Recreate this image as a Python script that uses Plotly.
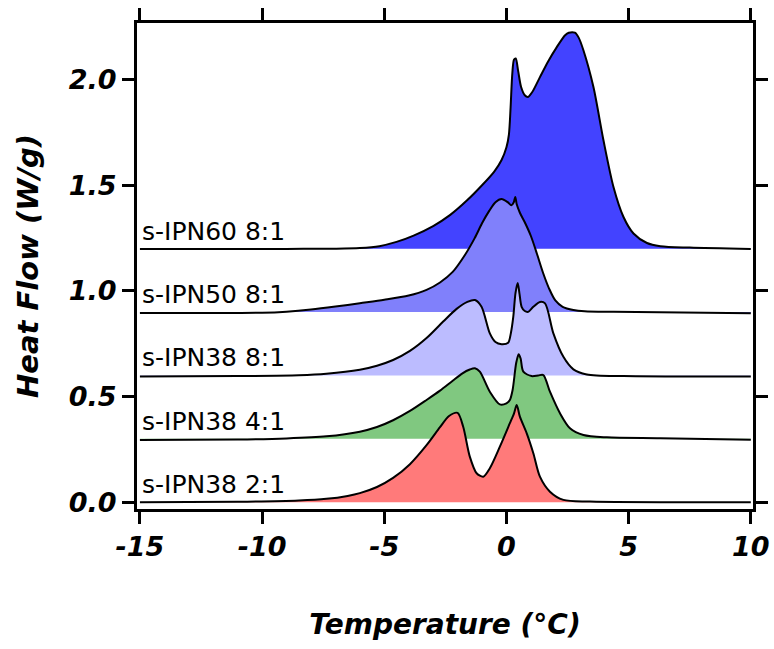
import plotly.graph_objects as go

# DSC heating traces, stacked with a vertical offset per sample
samples = ["s-IPN60 8:1", "s-IPN50 8:1", "s-IPN38 8:1", "s-IPN38 4:1", "s-IPN38 2:1"]
baselines = [1.2, 0.9, 0.6, 0.3, 0.0]
fill_colors = ["#4343ff", "#8080fb", "#bcbcff", "#80c880", "#ff7a7a"]

# s-IPN60 8:1
t_60 = [-15, -9, -7, -6, -5.2, -4.5, -3.8, -3.0, -2.3, -1.6, -1.0, -0.5, -0.2, 0.0,
        0.1, 0.17, 0.24, 0.31, 0.38, 0.48, 0.6, 0.75, 0.88, 1.05, 1.37, 1.7, 2.06,
        2.4, 2.55, 2.8, 2.95, 3.15, 3.56, 3.97, 4.38, 4.79, 5.2, 5.75, 6.3, 7.5, 10]
hf_60 = [1.198, 1.199, 1.2, 1.203, 1.212, 1.232, 1.262, 1.307, 1.36, 1.43, 1.50, 1.565,
         1.62, 1.68, 1.74, 1.87, 2.03, 2.095, 2.10, 2.04, 1.965, 1.926, 1.918, 1.94,
         2.012, 2.085, 2.154, 2.21, 2.222, 2.222, 2.2, 2.139, 1.965, 1.713, 1.492, 1.35,
         1.272, 1.227, 1.212, 1.205, 1.198]

# s-IPN50 8:1
t_50 = [-15, -10, -9, -8, -7, -6, -5, -4, -3.27, -2.72, -2.2, -1.7, -1.3, -1.0, -0.7,
        -0.45, -0.2, 0.05, 0.2, 0.3, 0.36, 0.42, 0.55, 0.75, 1.0, 1.25, 1.5, 1.75,
        2.0, 2.3, 2.74, 3.2, 4.38, 10]
hf_50 = [0.895, 0.897, 0.902, 0.912, 0.926, 0.942, 0.958, 0.978, 1.005, 1.04, 1.09, 1.17,
         1.25, 1.32, 1.38, 1.42, 1.435, 1.42, 1.405, 1.42, 1.445, 1.41, 1.37, 1.325, 1.26,
         1.175, 1.085, 1.01, 0.955, 0.925, 0.91, 0.904, 0.901, 0.894]

# s-IPN38 8:1
t_38a = [-15, -11, -8.5, -7.37, -6, -5.3, -4.64, -3.95, -3.27, -2.59, -2.04, -1.6, -1.29,
         -1.02, -0.68, -0.45, -0.2, 0.07, 0.18, 0.28, 0.37, 0.46, 0.53, 0.62, 0.75, 0.89,
         1.1, 1.37, 1.58, 1.92, 2.33, 2.74, 3.29, 4.79, 10]
hf_38a = [0.595, 0.597, 0.601, 0.608, 0.627, 0.646, 0.673, 0.716, 0.777, 0.855, 0.915, 0.948,
          0.957, 0.925, 0.799, 0.758, 0.748, 0.755, 0.80, 0.878, 0.99, 1.038, 0.99, 0.925,
          0.905, 0.901, 0.925, 0.948, 0.941, 0.799, 0.688, 0.629, 0.605, 0.597, 0.595]

# s-IPN38 4:1
t_38b = [-15, -11, -9, -7.37, -6, -5.3, -4.64, -3.95, -3.27, -2.72, -2.2, -1.8, -1.5, -1.29,
         -1.09, -0.68, -0.27, 0.0, 0.14, 0.25, 0.4, 0.5, 0.58, 0.69, 1.03, 1.3, 1.51, 1.78,
         2.19, 2.6, 3.15, 4.11, 6.29, 10]
hf_38b = [0.295, 0.297, 0.302, 0.312, 0.334, 0.356, 0.388, 0.432, 0.484, 0.528, 0.575, 0.61,
          0.628, 0.634, 0.618, 0.523, 0.463, 0.468, 0.484, 0.53, 0.66, 0.70, 0.68, 0.618,
          0.597, 0.6, 0.602, 0.523, 0.421, 0.35, 0.318, 0.307, 0.303, 0.296]

# s-IPN38 2:1
t_38c = [-15, -11, -8.5, -7.37, -6.5, -6, -5.3, -4.64, -3.95, -3.27, -2.72, -2.35, -2.0,
         -1.77, -1.5, -1.22, -0.95, -0.68, -0.27, 0.14, 0.31, 0.42, 0.55, 0.83, 1.1, 1.37,
         1.78, 2.33, 3.42, 10]
hf_38c = [0.0, 0.002, 0.008, 0.016, 0.03, 0.043, 0.072, 0.115, 0.18, 0.27, 0.355, 0.408,
          0.423, 0.357, 0.216, 0.137, 0.121, 0.161, 0.263, 0.374, 0.421, 0.46, 0.405, 0.326,
          0.232, 0.121, 0.05, 0.011, 0.003, 0.0]

temps = [t_60, t_50, t_38a, t_38b, t_38c]
flows = [hf_60, hf_50, hf_38a, hf_38b, hf_38c]

x_ticks = [-15, -10, -5, 0, 5, 10]
y_ticks = [0.0, 0.5, 1.0, 1.5, 2.0]

T_MIN, T_MAX = -15, 10

fig = go.Figure()

# Top trace first so each lower trace's fill is painted over the one above it
for name, base, color, t, hf in zip(samples, baselines, fill_colors, temps, flows):
    fig.add_trace(go.Scatter(
        x=[T_MIN, T_MAX], y=[base, base], mode="lines",
        line=dict(width=0, color=color), hoverinfo="skip", showlegend=False,
    ))
    fig.add_trace(go.Scatter(
        x=t, y=hf, mode="lines", name=name,
        line=dict(color="black", width=2, shape="spline", smoothing=0.8),
        fill="tonexty", fillcolor=color, showlegend=False,
    ))
    fig.add_annotation(
        x=-15.0, y=base, xref="x", yref="y", text=name, showarrow=False,
        xanchor="left", yanchor="bottom", yshift=1,
        font=dict(family="DejaVu Sans", size=25, color="black"),
    )

tick_font = dict(family="DejaVu Sans", size=27, color="black", weight="bold", style="italic")
x_title_font = dict(family="DejaVu Sans", size=28, color="black", weight="bold", style="italic")
y_title_font = dict(family="DejaVu Sans", size=29, color="black", weight="bold", style="italic")

fig.update_xaxes(
    range=[-15.12, 10.09], tickvals=x_ticks, ticktext=[str(v) for v in x_ticks],
    showline=True, linewidth=3, linecolor="black", mirror="ticks",
    ticks="outside", ticklen=12, tickwidth=2.5, tickcolor="black",
    showgrid=False, zeroline=False, tickfont=tick_font, automargin=False,
    title=dict(text="Temperature (°C)", font=x_title_font, standoff=53),
)
fig.update_yaxes(
    range=[-0.032, 2.268], tickvals=y_ticks, ticktext=[f"{v:.1f}" for v in y_ticks],
    showline=True, linewidth=3, linecolor="black", mirror="ticks",
    ticks="outside", ticklen=12, tickwidth=2.5, tickcolor="black",
    showgrid=False, zeroline=False, tickfont=tick_font, automargin=False,
    title=dict(text="Heat Flow (W/g)", font=y_title_font, standoff=22),
)

fig.update_layout(
    width=774, height=649,
    margin=dict(l=137, r=21, t=23, b=140),
    plot_bgcolor="white", paper_bgcolor="white",
    showlegend=False,
)

fig.write_html("out.html")
